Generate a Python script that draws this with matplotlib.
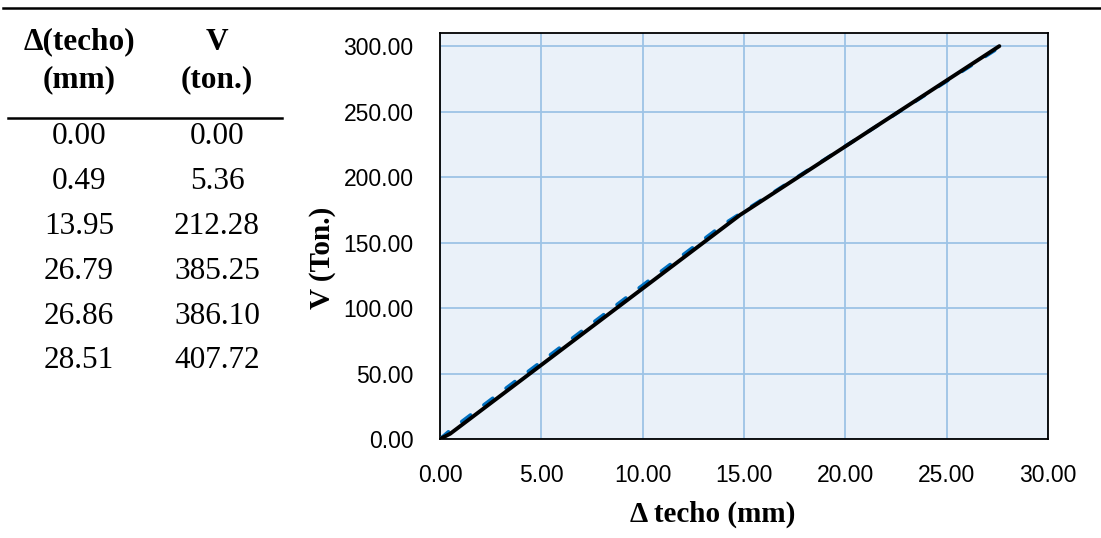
import matplotlib
matplotlib.use("Agg")
import matplotlib.pyplot as plt
from matplotlib.lines import Line2D

plt.rcParams['lines.scale_dashes'] = False

# Table data
table_header = ["Δ(techo)\n(mm)", "V\n(ton.)"]
table_disp = ["0.00", "0.49", "13.95", "26.79", "26.86", "28.51"]
table_v = ["0.00", "5.36", "212.28", "385.25", "386.10", "407.72"]

# Chart series
curve_x = [0.0, 0.49, 14.0, 27.6]
curve_y = [0.0, 6.5, 164.0, 299.0]
bilin_x = [0.0, 0.5, 14.8, 27.6]
bilin_y = [0.0, 4.0, 171.0, 300.0]

x_ticks = [0, 5, 10, 15, 20, 25, 30]
y_ticks = [0, 50, 100, 150, 200, 250, 300]

W, H = 1101, 538
fig = plt.figure(figsize=(W / 100, H / 100), dpi=100)

serif = ['Liberation Serif', 'DejaVu Serif']
sans = ['Liberation Sans', 'DejaVu Sans']

# horizontal rules
fig.add_artist(Line2D([3 / W, 1.0], [1 - 8 / H, 1 - 8 / H], color='black', lw=1.8,
                      transform=fig.transFigure))
fig.add_artist(Line2D([8 / W, 282 / W], [1 - 118 / H, 1 - 118 / H], color='black', lw=1.8,
                      transform=fig.transFigure))

col_x = [79, 217]
fs_tab = 22.5
# header
fig.text(col_x[0] / W, 1 - 42 / H, "Δ(techo)", ha='center', va='center', family=serif,
         fontweight='bold', fontsize=fs_tab)
fig.text(col_x[0] / W, 1 - 80 / H, "(mm)", ha='center', va='center', family=serif,
         fontweight='bold', fontsize=fs_tab)
fig.text(col_x[1] / W, 1 - 42 / H, "V", ha='center', va='center', family=serif,
         fontweight='bold', fontsize=fs_tab)
fig.text(col_x[1] / W, 1 - 80 / H, "(ton.)", ha='center', va='center', family=serif,
         fontweight='bold', fontsize=fs_tab)

row_y0, row_dy = 137, 44.8
for i, (a, b) in enumerate(zip(table_disp, table_v)):
    yy = 1 - (row_y0 + i * row_dy) / H
    fig.text(col_x[0] / W, yy, a, ha='center', va='center', family=serif, fontsize=fs_tab)
    fig.text(col_x[1] / W, yy, b, ha='center', va='center', family=serif, fontsize=fs_tab)

# chart
left, right, bottom, top = 440, 1048, 439, 33
ax = fig.add_axes([left / W, 1 - bottom / H, (right - left) / W, (bottom - top) / H])
ax.set_facecolor('#EAF1F9')
ax.set_xlim(0, 30)
ax.set_ylim(0, 310)
ax.set_xticks(x_ticks)
ax.set_yticks(y_ticks)
ax.set_xticklabels([f"{v:.2f}" for v in x_ticks], family=sans, fontsize=16.5)
ax.set_yticklabels([f"{v:.2f}" for v in y_ticks], family=sans, fontsize=16.5)
ax.tick_params(length=0)
ax.tick_params(axis='y', pad=19)
ax.tick_params(axis='x', pad=18)
ax.grid(True, color='#9DC3E6', lw=1.3)
ax.set_axisbelow(True)
for s in ax.spines.values():
    s.set_color('black')
    s.set_linewidth(1.3)

ax.plot(curve_x, curve_y, color='#0070C0', lw=2.6, dashes=(8, 12), zorder=3,
        solid_capstyle='round', dash_capstyle='round')
ax.plot(bilin_x, bilin_y, color='black', lw=2.8, zorder=4, solid_capstyle='round')

ax.set_xlabel("Δ techo (mm)", family=serif, fontweight='bold', fontsize=21)
ax.set_ylabel("V (Ton.)", family=serif, fontweight='bold', fontsize=21)
ax.xaxis.set_label_coords((713 - left) / (right - left), (bottom - 514) / (bottom - top))
ax.yaxis.set_label_coords((322 - left) / (right - left), (bottom - 258) / (bottom - top))
ax.xaxis.label.set_va('center')
ax.yaxis.label.set_va('center')

fig.savefig("out.png", dpi=100)
